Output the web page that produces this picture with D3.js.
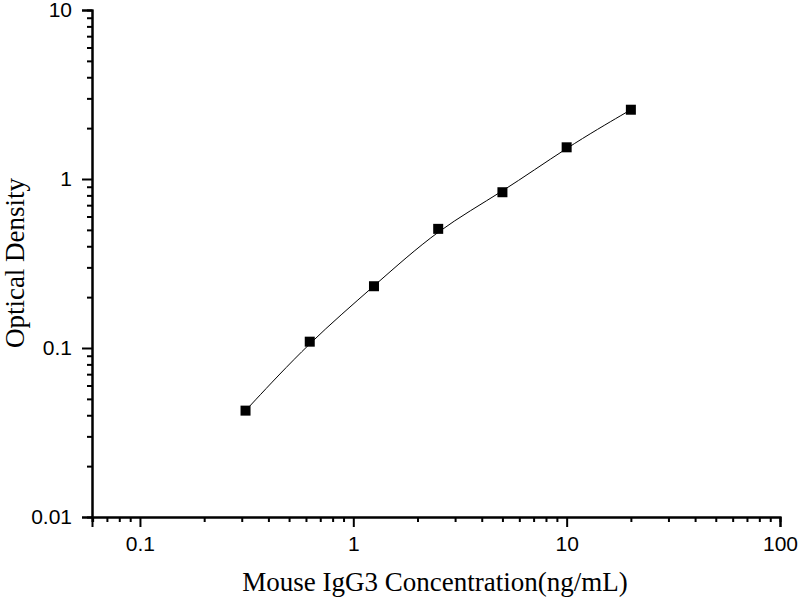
<!DOCTYPE html>
<html>
<head>
<meta charset="utf-8">
<script src="https://cdn.jsdelivr.net/npm/d3@7"></script>
<style>
  body { margin: 0; background: #fff; }
  svg { display: block; }
</style>
</head>
<body>
<div id="wrapper"></div>
<script>
const concentrations = [0.3125, 0.625, 1.25, 2.5, 5, 10, 20];
const densities = [0.0426, 0.109, 0.232, 0.507, 0.835, 1.54, 2.57];
const xTickValues = [0.1, 1, 10, 100];
const xTickLabels = ["0.1", "1", "10", "100"];
const yTickValues = [0.01, 0.1, 1, 10];
const yTickLabels = ["0.01", "0.1", "1", "10"];

function buildPlot() {
    const dimension = {
        width: 800,
        height: 600,
        margin: { top: 10, left: 92, bottom: 83, right: 20 }
    };

    const data = concentrations.map((c, i) => ({ x: c, y: densities[i] }));

    const svg = d3.select("#wrapper").append("svg")
        .attr("width", dimension.width)
        .attr("height", dimension.height);

    const xScaler = d3.scaleLog()
        .domain([0.0596, 100])
        .range([dimension.margin.left, 780]);
    const yScaler = d3.scaleLog()
        .domain([0.01, 10])
        .range([517, 10]);

    // minor ticks
    const minorX = [];
    const minorY = [];
    [0.01, 0.1, 1, 10].forEach(dec => {
        for (let k = 2; k <= 9; k++) {
            const v = dec * k;
            if (v >= 0.0596 && v < 100) minorX.push(v);
        }
    });
    [0.01, 0.1, 1].forEach(dec => {
        for (let k = 2; k <= 9; k++) minorY.push(dec * k);
    });

    const xMinor = d3.axisBottom(xScaler).tickValues(minorX).tickSize(5).tickFormat("");
    const yMinor = d3.axisLeft(yScaler).tickValues(minorY).tickSize(5).tickFormat("");
    const xAxisGenerator = d3.axisBottom(xScaler)
        .tickValues(xTickValues).tickSize(10).tickPadding(9)
        .tickFormat((d, i) => xTickLabels[i]);
    const yAxisGenerator = d3.axisLeft(yScaler)
        .tickValues(yTickValues).tickSize(10).tickPadding(10)
        .tickFormat((d, i) => yTickLabels[i]);

    const styleAxis = g => {
        g.attr("font-size", null);
        g.select(".domain").attr("stroke", "#000").attr("stroke-width", 2);
        g.selectAll(".tick line").attr("stroke", "#000").attr("stroke-width", 2);
        g.selectAll(".tick text")
            .attr("fill", "#000")
            .style("font-family", "'Liberation Sans', Arial, sans-serif")
            .style("font-size", "21px");
    };

    svg.append("g").attr("transform", "translate(0,517)").call(xMinor).call(styleAxis);
    svg.append("g").attr("transform", `translate(${dimension.margin.left},0)`).call(yMinor).call(styleAxis);
    svg.append("g").attr("transform", "translate(0,517)").call(xAxisGenerator).call(styleAxis);
    svg.append("g").attr("transform", `translate(${dimension.margin.left},0)`).call(yAxisGenerator).call(styleAxis);

    // fitted curve through the standards
    const line = d3.line()
        .x(d => xScaler(d.x))
        .y(d => yScaler(d.y))
        .curve(d3.curveBasis);
    svg.append("path")
        .datum(data)
        .attr("d", line)
        .attr("fill", "none")
        .attr("stroke", "#000")
        .attr("stroke-width", 1);

    const markerSize = 10;
    svg.append("g").selectAll("rect")
        .data(data)
        .join("rect")
        .attr("x", d => xScaler(d.x) - markerSize / 2)
        .attr("y", d => yScaler(d.y) - markerSize / 2)
        .attr("width", markerSize)
        .attr("height", markerSize)
        .attr("fill", "#000");

    svg.append("text")
        .attr("x", 435)
        .attr("y", 591)
        .attr("text-anchor", "middle")
        .style("font-family", "'Liberation Serif', 'Times New Roman', serif")
        .style("font-size", "27px")
        .text("Mouse IgG3 Concentration(ng/mL)");

    svg.append("text")
        .attr("transform", "translate(24,263) rotate(-90)")
        .attr("text-anchor", "middle")
        .style("font-family", "'Liberation Serif', 'Times New Roman', serif")
        .style("font-size", "27px")
        .text("Optical Density");
}

buildPlot();
</script>
</body>
</html>
